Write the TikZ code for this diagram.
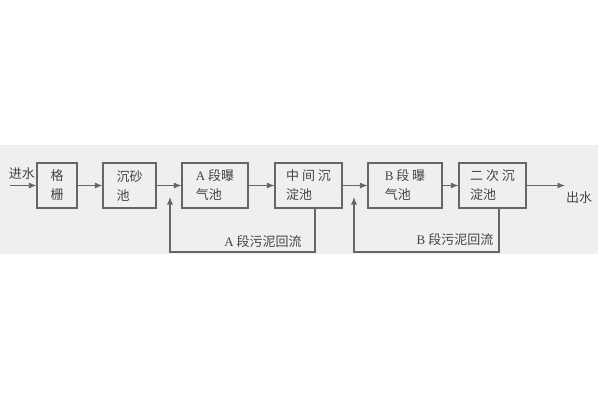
\documentclass[tikz,border=0pt]{standalone}
\usepackage{fontspec}
\newfontfamily\cjk{Noto Sans CJK SC}
\newfontfamily\lat{Liberation Serif}
\usetikzlibrary{arrows.meta}
\definecolor{linec}{HTML}{666666}
\definecolor{txtc}{HTML}{444444}
\definecolor{bandc}{HTML}{EFEFEF}
\begin{document}
\begin{tikzpicture}[x=1pt,y=-1pt,
  line/.style={draw=linec, line width=1.1pt},
  arr/.style={line, -{Latex[length=7.5pt,width=6pt]}},
  box/.style={draw=linec, line width=1.1pt, minimum height=45pt, align=left, inner sep=0pt, text=txtc, font=\cjk\fontsize{13}{19}\selectfont},
  lbl/.style={text=txtc, inner sep=0pt, font=\cjk\fontsize{13}{15}\selectfont}]
\useasboundingbox (0,0) rectangle (600,400);
\fill[bandc] (0,145) rectangle (598,254);
\node[box, minimum width=40pt] (b1) at (57,185.5) {格\\栅};
\node[box, minimum width=53pt] (b2) at (129.5,185.5) {沉砂\\池};
\node[box, minimum width=66pt] (b3) at (215,185.5) {{\lat A} 段曝\\气池};
\node[box, minimum width=67pt] (b4) at (308.5,185.5) {中 间 沉\\淀池};
\node[box, minimum width=74pt] (b5) at (405,185.5) {{\lat B} 段 曝\\气池};
\node[box, minimum width=67pt] (b6) at (492.5,185.5) {二 次 沉\\淀池};
\coordinate (in) at (10,185.5);
\coordinate (out) at (565,185.5);
\node[lbl] (tin) at (22,174) {进水};
\node[lbl] (tout) at (579,198) {出水};
\draw[arr] (in) -- (b1);
\draw[arr] (b1) -- (b2);
\draw[arr] (b2) -- (b3);
\draw[arr] (b3) -- (b4);
\draw[arr] (b4) -- (b5);
\draw[arr] (b5) -- (b6);
\draw[arr] (b6) -- (out);
\coordinate (a1) at (315,252);
\coordinate (a2) at (170,252);
\coordinate (a3) at (170,197);
\draw[arr] (b4.south -| a1) -- (a1) -- (a2) -- (a3);
\coordinate (c1) at (499,252);
\coordinate (c2) at (354,252);
\coordinate (c3) at (354,197);
\draw[arr] (b6.south -| c1) -- (c1) -- (c2) -- (c3);
\node[lbl] (la) at (263,242) {{\lat A} 段污泥回流};
\node[lbl] (lb) at (455,240) {{\lat B} 段污泥回流};
\end{tikzpicture}
\end{document}
